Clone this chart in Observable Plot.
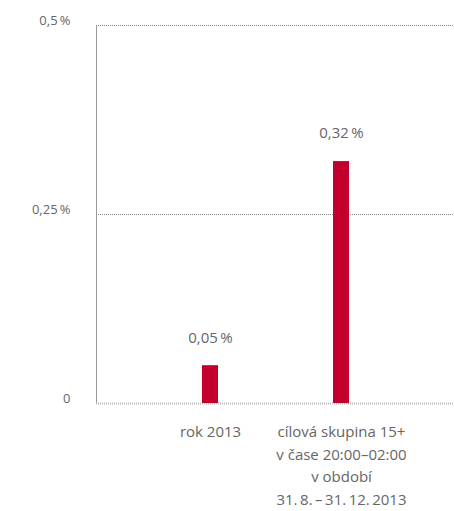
<!DOCTYPE html>
<html><head><meta charset="utf-8">
<script src="https://cdn.jsdelivr.net/npm/d3@7"></script>
<script src="https://cdn.jsdelivr.net/npm/@observablehq/plot@0.6"></script>
<style>body{margin:0;background:#fff;} svg{display:block;}</style>
</head><body><div id="chart"></div>
<script>
const categories = ["rok 2013", "cílová skupina 15+\nv čase 20:00–02:00\nv období\n31.\u20098.\u2009–\u200931.\u200912.\u20092013"];
const values = [0.05, 0.32];
const yTicks = [0, 0.25, 0.5];
const yTickLabels = ["0", "0,25\u2009%", "0,5\u2009%"];
const valueLabels = ["0,05\u2009%", "0,32\u2009%"];

const data = categories.map((c, i) => ({cat: c, v: values[i], label: valueLabels[i]}));
const font = "'Open Sans', sans-serif";
const grey = "#666666";

const chart = Plot.plot({
  width: 454, height: 511,
  marginLeft: 96, marginRight: 0, marginTop: 25, marginBottom: 108,
  style: {fontFamily: font, color: grey, background: "#fff"},
  x: {domain: categories, paddingInner: 0.878, paddingOuter: 0.805, label: null},
  y: {domain: [0, 0.5], label: null},
  marks: [
    Plot.ruleY([0.25, 0.5], {stroke: "#888", strokeWidth: 1, strokeDasharray: "1,1"}),
    Plot.frame({anchor: "left", stroke: "#999", strokeDasharray: "1,1"}),
    Plot.ruleY([0], {stroke: "#bbb", strokeWidth: 2, strokeDasharray: "1,1"}),
    Plot.barY(data, {x: "cat", y: "v", fill: "#c3002c"}),
    Plot.text(data, {x: "cat", y: "v", text: "label", dy: -28, fontSize: 15, fill: grey}),
    Plot.axisY({ticks: yTicks, tickFormat: (d) => yTickLabels[yTicks.indexOf(d)], tickSize: 0, tickPadding: 26, dy: -5, fontSize: 13, fill: grey, label: null}),
    Plot.axisX({tickSize: 0, tickPadding: 18, lineHeight: 1.5, fontSize: 15, fill: grey, label: null})
  ]
});
document.getElementById("chart").appendChild(chart);
</script></body></html>
